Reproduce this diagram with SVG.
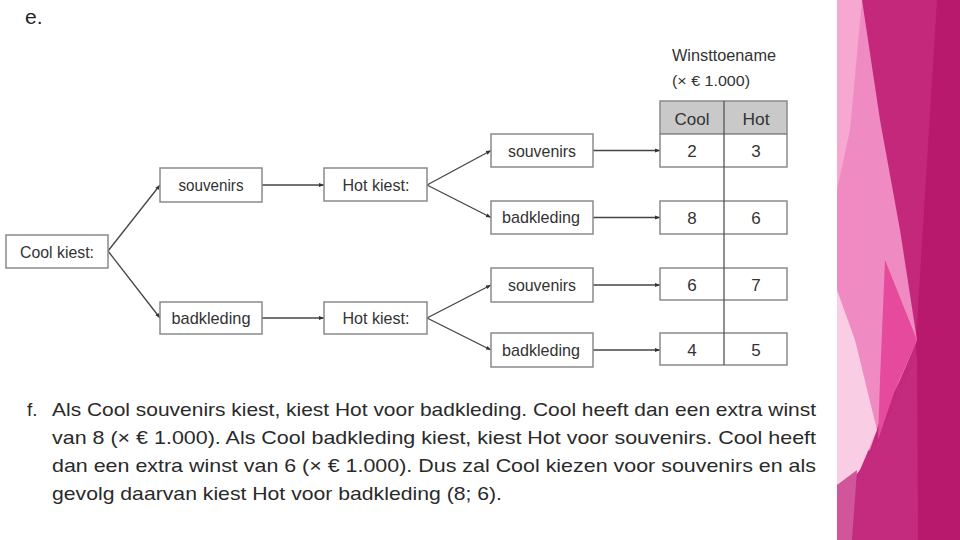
<svg xmlns="http://www.w3.org/2000/svg" width="960" height="540" viewBox="0 0 960 540">
<style>
.box{fill:#fff;stroke:#8a8a8a;stroke-width:1.5}
.lbl{font-family:"Liberation Sans",Arial,sans-serif;font-size:17px;fill:#333;text-anchor:middle}
.con{stroke:#444;stroke-width:1.3;fill:none;marker-end:url(#ah)}
.txt{font-family:"Liberation Sans",Arial,sans-serif;font-size:19px;fill:#2a2a2a}
</style>
<defs>
<marker id="ah" viewBox="0 0 10 10" refX="10" refY="5" markerWidth="5" markerHeight="5" orient="auto" markerUnits="userSpaceOnUse">
<path d="M0,1 L10,5 L0,9 z" fill="#333"/>
</marker>
</defs>
<rect width="960" height="540" fill="#fff"/>
<g id="decor">
<rect x="837" y="0" width="123" height="540" fill="#c3287b"/>
<polygon points="937,0 960,0 960,540 918,540 916,340" fill="#b8196d"/>
<polygon points="837,0 862,0 880,120 900,230 917,340 900,380 880,420 870,450 837,460" fill="#f08ac2"/>
<polygon points="837,0 862,0 850,130 837,190" fill="#f6a8d0"/>
<polygon points="837,290 855,340 877,430 860,470 837,500" fill="#f9cde3"/>
<polygon points="885,260 917,340 895,390 878,440 880,380" fill="#e64a9c"/>
<polygon points="837,500 860,470 878,440 917,355 918,540 837,540" fill="#c42a7e"/>
<polygon points="837,485 857,470 852,540 837,540" fill="#d0559a"/>
</g>
<text x="25" y="24" font-family="Liberation Sans,Arial,sans-serif" font-size="21" fill="#222">e.</text>
<g id="connectors">
<path class="con" d="M108,251 L160,185"/>
<path class="con" d="M108,251 L160,318"/>
<path class="con" d="M262,185 L324,185"/>
<path class="con" d="M262,318 L324,318"/>
<path class="con" d="M427,185 L491,150.5"/>
<path class="con" d="M427,185 L491,217.5"/>
<path class="con" d="M427,318 L491,285"/>
<path class="con" d="M427,318 L491,350"/>
<path class="con" d="M593,150.5 L660,150.5"/>
<path class="con" d="M593,217.5 L660,217.5"/>
<path class="con" d="M593,285 L660,285"/>
<path class="con" d="M593,350 L660,350"/>
</g>
<g id="cool"><rect class="box" x="6" y="235" width="102" height="33"/><text class="lbl" x="57" y="258" textLength="74" lengthAdjust="spacingAndGlyphs">Cool kiest:</text></g>
<g id="c-souv"><rect class="box" x="160" y="168" width="102" height="34"/><text class="lbl" x="211" y="191" textLength="65" lengthAdjust="spacingAndGlyphs">souvenirs</text></g>
<g id="c-bad"><rect class="box" x="160" y="302" width="102" height="32"/><text class="lbl" x="211" y="324" textLength="79" lengthAdjust="spacingAndGlyphs">badkleding</text></g>
<g id="hot1"><rect class="box" x="324" y="168" width="103" height="33"/><text class="lbl" x="376" y="191" textLength="67" lengthAdjust="spacingAndGlyphs">Hot kiest:</text></g>
<g id="hot2"><rect class="box" x="324" y="302" width="103" height="32"/><text class="lbl" x="376" y="324" textLength="67" lengthAdjust="spacingAndGlyphs">Hot kiest:</text></g>
<g id="h1-souv"><rect class="box" x="491" y="134" width="102" height="33"/><text class="lbl" x="542" y="157" textLength="68" lengthAdjust="spacingAndGlyphs">souvenirs</text></g>
<g id="h1-bad"><rect class="box" x="491" y="201" width="102" height="33"/><text class="lbl" x="541" y="223" textLength="78" lengthAdjust="spacingAndGlyphs">badkleding</text></g>
<g id="h2-souv"><rect class="box" x="491" y="268" width="102" height="34"/><text class="lbl" x="542" y="291" textLength="68" lengthAdjust="spacingAndGlyphs">souvenirs</text></g>
<g id="h2-bad"><rect class="box" x="491" y="333" width="102" height="34"/><text class="lbl" x="541" y="356" textLength="78" lengthAdjust="spacingAndGlyphs">badkleding</text></g>
<g id="table">
<text x="672" y="61" font-family="Liberation Sans,Arial,sans-serif" font-size="16" fill="#333" textLength="104" lengthAdjust="spacingAndGlyphs">Winsttoename</text>
<text x="672" y="86" font-family="Liberation Sans,Arial,sans-serif" font-size="14" fill="#333" textLength="78" lengthAdjust="spacingAndGlyphs">(× € 1.000)</text>
<rect x="660" y="101" width="127" height="33" fill="#c9c9c9" stroke="#8a8a8a" stroke-width="1.5"/>
<rect class="box" x="660" y="134" width="127" height="33"/>
<rect class="box" x="660" y="201" width="127" height="33"/>
<rect class="box" x="660" y="268" width="127" height="32"/>
<rect class="box" x="660" y="333" width="127" height="32"/>
<line x1="724" y1="101" x2="724" y2="365" stroke="#555" stroke-width="1.3"/>
<text class="lbl" x="692" y="125" textLength="35" lengthAdjust="spacingAndGlyphs">Cool</text>
<text class="lbl" x="756" y="125" textLength="27" lengthAdjust="spacingAndGlyphs">Hot</text>
<text class="lbl" x="692" y="157">2</text><text class="lbl" x="756" y="157">3</text>
<text class="lbl" x="692" y="224">8</text><text class="lbl" x="756" y="224">6</text>
<text class="lbl" x="692" y="291">6</text><text class="lbl" x="756" y="291">7</text>
<text class="lbl" x="692" y="356">4</text><text class="lbl" x="756" y="356">5</text>
</g>
<g id="answer">
<text class="txt" x="27" y="416">f.</text>
<text class="txt" x="52" y="416" textLength="764" lengthAdjust="spacingAndGlyphs">Als Cool souvenirs kiest, kiest Hot voor badkleding. Cool heeft dan een extra winst</text>
<text class="txt" x="52" y="444" textLength="764" lengthAdjust="spacingAndGlyphs">van 8 (× € 1.000). Als Cool badkleding kiest, kiest Hot voor souvenirs. Cool heeft</text>
<text class="txt" x="52" y="472" textLength="764" lengthAdjust="spacingAndGlyphs">dan een extra winst van 6 (× € 1.000). Dus zal Cool kiezen voor souvenirs en als</text>
<text class="txt" x="52" y="500" textLength="450" lengthAdjust="spacingAndGlyphs">gevolg daarvan kiest Hot voor badkleding (8; 6).</text>
</g>
</svg>
